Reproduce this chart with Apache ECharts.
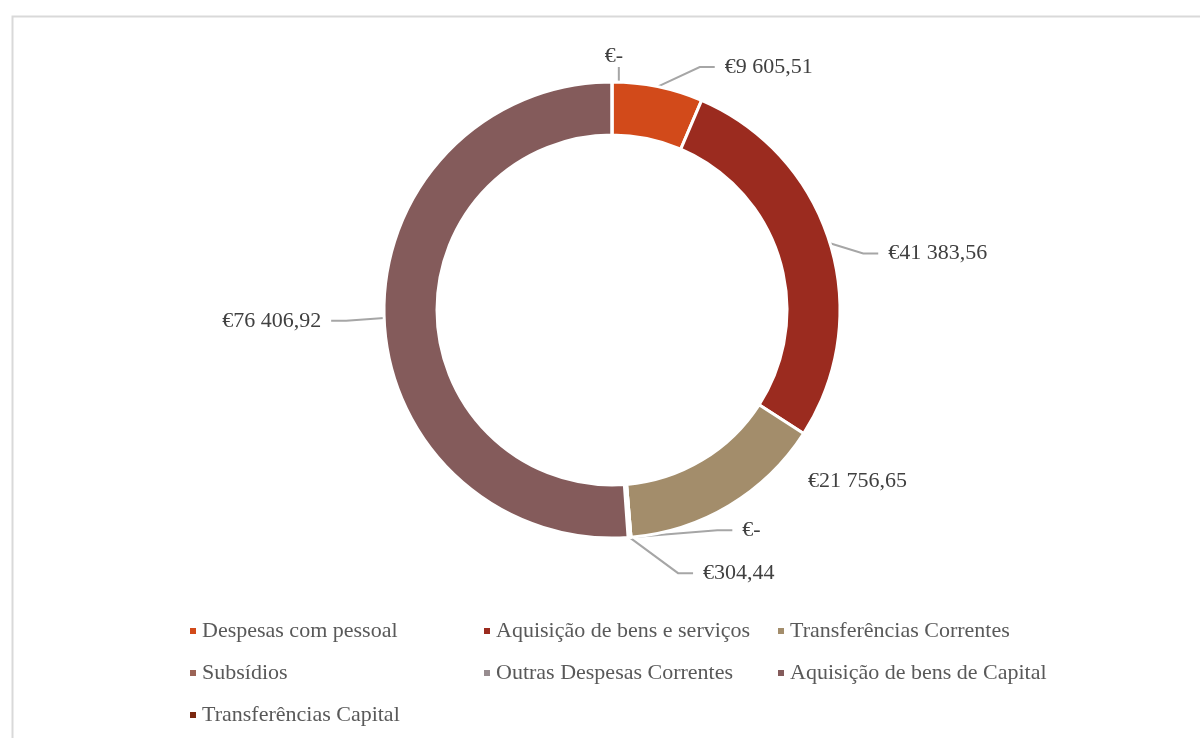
<!DOCTYPE html>
<html>
<head>
<meta charset="utf-8">
<title>Despesas</title>
<script src="https://cdn.jsdelivr.net/npm/echarts@6/dist/echarts.min.js"></script>
<style>
  html, body { margin: 0; padding: 0; background: #fff; }
  #main { width: 1200px; height: 738px; }
</style>
</head>
<body>
<div id="main"></div>
<script>
// categorias e valores (EUR)
var categorias = ['Despesas com pessoal', 'Aquisição de bens e serviços', 'Transferências Correntes',
    'Subsídios', 'Outras Despesas Correntes', 'Aquisição de bens de Capital', 'Transferências Capital'];
var valores = [9605.51, 41383.56, 21756.65, 0, 304.44, 76406.92, 0];
var cores = ['#D24A1A', '#9B2B1F', '#A38D6B', '#9B6356', '#978C8F', '#845B5B', '#7A2710'];
// deslocamento das etiquetas (para ficar como no Excel)
var desloc = [[33, 0], [14, 16], [16, -41], [1, -27], [42, -8], [-13, 2], [41, -6]];
// etiquetas do lado esquerdo do anel
var ladoEsq = [5, 6];

var fonte = '"Liberation Serif", "DejaVu Serif", serif';

/**
 * formata em euros: €9 605,51 / €-
 */
function euro(v) {
    if (!v) return '€-';
    var p = v.toFixed(2).split('.');
    var int = p[0].replace(/\B(?=(\d{3})+(?!\d))/g, ' ');
    return '€' + int + ',' + p[1];
}

var dados = [];
for (var i = 0; i < categorias.length; i++) {
    var d = { name: categorias[i], value: valores[i], itemStyle: { color: cores[i] } };
    if (i == 2) d.labelLine = { show: false };
    dados.push(d);
}

var option = {
    backgroundColor: '#fff',
    animation: false,
    graphic: [{
        type: 'rect',
        left: 10, top: 14,
        shape: { width: 1250, height: 800 },
        style: { fill: 'none', stroke: '#d9d9d9', lineWidth: 2 }
    }],
    legend: {
        left: 183,
        top: 605,
        width: 900,
        itemWidth: 8,
        itemHeight: 8,
        itemGap: 0,
        icon: 'rect',
        data: categorias,
        textStyle: {
            fontFamily: fonte,
            fontSize: 22,
            color: '#595959',
            width: 280,
            lineHeight: 42
        }
    },
    series: [{
        name: 'Despesas',
        type: 'pie',
        center: [612, 310],
        radius: [175, 228],
        startAngle: 90,
        clockwise: true,
        avoidLabelOverlap: true,
        data: dados,
        itemStyle: { borderColor: '#fff', borderWidth: 3 },
        label: {
            show: true,
            position: 'outside',
            fontFamily: fonte,
            fontSize: 22,
            color: '#404040',
            formatter: function(p) {
                // espaço entre a linha e o texto
                if (ladoEsq.indexOf(p.dataIndex) >= 0) return euro(p.value) + '{s|}';
                return '{s|}' + euro(p.value);
            },
            rich: {
                s: { width: 10 }
            }
        },
        labelLine: {
            show: true,
            length: 20,
            length2: 15,
            lineStyle: { color: '#a6a6a6', width: 2 }
        },
        labelLayout: function(p) {
            var o = desloc[p.dataIndex];
            var r = p.labelRect;
            var x = r.x;
            if (p.align == 'right') x = r.x + r.width;
            else if (p.align == 'center') x = r.x + r.width / 2;
            var y = r.y + r.height / 2;
            if (p.verticalAlign == 'top') y = r.y;
            else if (p.verticalAlign == 'bottom') y = r.y + r.height;
            return { x: x + o[0], y: y + o[1] };
        }
    }]
};

var myChart = echarts.init(document.getElementById('main'));
myChart.setOption(option);
</script>
</body>
</html>
